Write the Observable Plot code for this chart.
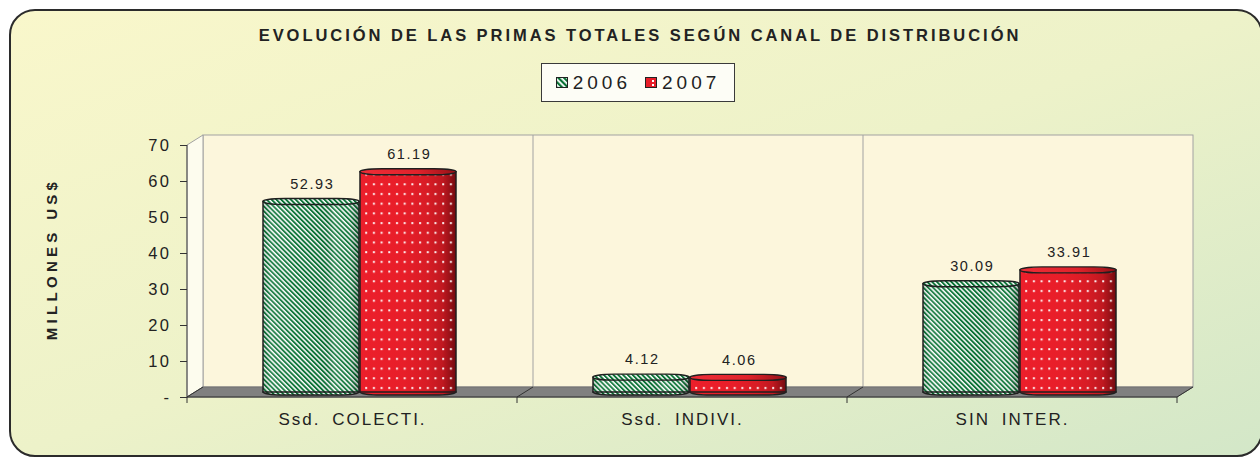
<!DOCTYPE html>
<html>
<head>
<meta charset="utf-8">
<script src="https://cdn.jsdelivr.net/npm/d3@7"></script>
<script src="https://cdn.jsdelivr.net/npm/@observablehq/plot@0.6"></script>
<style>
  html, body { margin: 0; padding: 0; }
  body { width: 1260px; height: 457px; position: relative; overflow: hidden; background: #ffffff;
         font-family: "Liberation Sans", Arial, sans-serif; color: #222; }
  #panel { position: absolute; left: 9px; top: 9px; width: 1254px; height: 448px; box-sizing: border-box;
           border: 2px solid #2b2b2b; border-radius: 26px;
           background: linear-gradient(to bottom right, #f9f7cb 0%, #edf2c9 50%, #d3e7c8 100%); }
  #title { position: absolute; left: 0; top: 26px; width: 1280px; text-align: center; font-weight: bold;
           font-size: 16.5px; letter-spacing: 2.95px; color: #222; white-space: nowrap; }
  #legend { position: absolute; left: 541px; top: 63px; width: 194px; height: 39px; box-sizing: border-box;
            border: 1px solid #3a3a3a; background: #fdfdf6; display: flex; align-items: center;
            justify-content: center; font-size: 19px; letter-spacing: 4px; color: #222; }
  #legend .item { display: flex; align-items: center; margin: 0 7px; }
  #legend svg { margin-right: 5px; }
  #ylabel { position: absolute; left: 51px; top: 259px; transform: translate(-50%, -50%) rotate(-90deg);
            font-weight: bold; font-size: 15px; letter-spacing: 4.3px; white-space: nowrap; color: #222; }
  #chart { position: absolute; left: 0; top: 0; }
  #chart g[aria-label^="y-axis"] text { font-size: 16.5px; letter-spacing: 2.5px; fill: #222; }
  #chart g[aria-label^="fx-axis"] text { font-size: 17px; letter-spacing: 2px; word-spacing: 5px; fill: #222; }
  #chart g[aria-label="text"] text { font-size: 14.5px; letter-spacing: 1.6px; fill: #222; }
</style>
</head>
<body>
<div id="panel"></div>
<div id="title">EVOLUCIÓN DE LAS PRIMAS TOTALES SEGÚN CANAL DE DISTRIBUCIÓN</div>
<div id="legend"></div>
<div id="ylabel">MILLONES US$</div>
<div id="chart"></div>
<script>
// ---- data ----
const categories = ["Ssd. COLECTI.", "Ssd. INDIVI.", "SIN INTER."];
const years = ["2006", "2007"];
const primas2006 = [52.93, 4.12, 30.09];
const primas2007 = [61.19, 4.06, 33.91];
const yTicks = [0, 10, 20, 30, 40, 50, 60, 70];
const yTickLabels = ["-", "10", "20", "30", "40", "50", "60", "70"];

const rows = categories.flatMap((cat, i) => [
  {cat, year: years[0], value: primas2006[i]},
  {cat, year: years[1], value: primas2007[i]}
]);
const rows06 = rows.filter(d => d.year === years[0]);
const rows07 = rows.filter(d => d.year === years[1]);

// 3D depth of the chart box
const DEPTH_X = 16, DEPTH_Y = -10;
const DX = DEPTH_X / 2, DY = DEPTH_Y / 2;
const OUTLINE = "#1f1f1f";

const body = {fx: "cat", x: "year", y: "value", dx: DX, dy: DY};
const capTop = (data, fill) => Plot.barY(data, {fx: "cat", x: "year", y1: "value", y2: "value",
  insetTop: -3, insetBottom: -3, rx: 22, ry: 3, dx: DX, dy: DY, fill, stroke: OUTLINE, strokeWidth: 1.4});
const capBottom = (data, fill) => Plot.barY(data, {fx: "cat", x: "year", y1: d => 0, y2: d => 0,
  insetTop: -3, insetBottom: -3, rx: 22, ry: 3, dx: DX, dy: DY, fill, stroke: OUTLINE, strokeWidth: 1.4});

const chart = Plot.plot({
  width: 1260,
  height: 457,
  marginLeft: 187,
  marginRight: 83,
  marginTop: 145,
  marginBottom: 60,
  style: {background: "transparent", fontFamily: "Liberation Sans, Arial, sans-serif", fontSize: "15px", color: "#222", overflow: "visible"},
  fx: {domain: categories, padding: 0, label: null},
  x: {domain: years, paddingInner: 0.01, paddingOuter: 0.706, axis: null},
  y: {domain: [0, 70], label: null},
  marks: [
    Plot.axisY({ticks: yTicks, tickFormat: d => yTickLabels[yTicks.indexOf(d)], tickSize: 7, tickPadding: 9,
      label: null, stroke: "#333", fontSize: 16.5}),
    Plot.axisFx({anchor: "bottom", tickSize: 0, tickPadding: 15, label: null, fontSize: 17}),
    // 2006: green striped columns
    capBottom(rows06, "url(#stripes)"),
    Plot.barY(rows06, {...body, fill: "#ffffff"}),
    Plot.barY(rows06, {...body, fill: "url(#stripes)"}),
    Plot.barY(rows06, {...body, fill: "url(#shadeGreen)", stroke: OUTLINE, strokeWidth: 1.5}),
    capTop(rows06, "url(#stripes)"),
    // 2007: red dotted columns
    capBottom(rows07, "url(#redBody)"),
    Plot.barY(rows07, {...body, fill: "url(#redBody)"}),
    Plot.barY(rows07, {...body, fill: "url(#dots)", stroke: OUTLINE, strokeWidth: 1.5}),
    capTop(rows07, "url(#redTop)"),
    // value labels
    Plot.text(rows, {fx: "cat", x: "year", y: "value", text: d => d.value.toFixed(2),
      dx: DX + 0.8, dy: DY - 18, fill: "#222"})
  ]
});

const svg = d3.select(chart);

// ---- fills ----
const defs = svg.insert("defs", ":first-child");
const stripes = defs.append("pattern").attr("id", "stripes").attr("patternUnits", "userSpaceOnUse")
  .attr("width", 3.4).attr("height", 3.4).attr("patternTransform", "rotate(-45)");
stripes.append("rect").attr("width", 3.4).attr("height", 3.4).attr("fill", "#ffffff");
stripes.append("rect").attr("width", 1.9).attr("height", 3.4).attr("fill", "#087234");

const dots = defs.append("pattern").attr("id", "dots").attr("patternUnits", "userSpaceOnUse")
  .attr("width", 7.7).attr("height", 9.7);
dots.append("rect").attr("x", 3).attr("y", 4).attr("width", 2).attr("height", 2).attr("fill", "#ffffff").attr("opacity", 0.95);

function hGrad(id, stops) {
  const g = defs.append("linearGradient").attr("id", id).attr("x1", 0).attr("x2", 1).attr("y1", 0).attr("y2", 0);
  stops.forEach(([o, c, a]) => g.append("stop").attr("offset", o).attr("stop-color", c).attr("stop-opacity", a));
}
hGrad("shadeGreen", [[0, "#000", 0.1], [0.08, "#fff", 0.15], [0.35, "#fff", 0.03], [0.62, "#000", 0.03],
  [0.74, "#fff", 0.16], [0.88, "#fff", 0.06], [0.96, "#000", 0.18], [1, "#000", 0.32]]);
hGrad("redBody", [[0, "#ec1f2b", 1], [0.45, "#e81e29", 1], [0.7, "#d81c25", 1], [0.86, "#c01820", 1],
  [0.94, "#971117", 1], [1, "#700b10", 1]]);
hGrad("redTop", [[0, "#ee2d37", 1], [0.6, "#e0222b", 1], [1, "#951117", 1]]);

// ---- 3D box (walls, floor, ticks) drawn from Plot's own scales ----
const fx = chart.scale("fx"), y = chart.scale("y");
const bw = fx.bandwidth;
const xs = categories.map(c => fx.apply(c));
const x0 = xs[0], x3 = xs[xs.length - 1] + bw;
const yb = y.apply(0), yt = y.apply(70);
const box = svg.insert("g", "defs + *").attr("aria-label", "chart box");
const edges = [...xs, x3];
box.append("rect").attr("x", x0 + DEPTH_X).attr("y", yt + DEPTH_Y).attr("width", x3 - x0).attr("height", yb - yt)
  .attr("fill", "#fcf6dc").attr("stroke", "#a2a2a2");
edges.slice(1, -1).forEach(e => box.append("line").attr("x1", e + DEPTH_X).attr("x2", e + DEPTH_X)
  .attr("y1", yt + DEPTH_Y).attr("y2", yb + DEPTH_Y).attr("stroke", "#a2a2a2"));
box.append("polygon").attr("points", [[x0, yt], [x0 + DEPTH_X, yt + DEPTH_Y], [x0 + DEPTH_X, yb + DEPTH_Y], [x0, yb]].join(" "))
  .attr("fill", "#fdfcee").attr("stroke", "#a2a2a2");
box.append("polygon").attr("points", [[x0, yb], [x3, yb], [x3 + DEPTH_X, yb + DEPTH_Y], [x0 + DEPTH_X, yb + DEPTH_Y]].join(" "))
  .attr("fill", "#808080").attr("stroke", "#707070");
box.append("line").attr("x1", x0).attr("x2", x0).attr("y1", yt).attr("y2", yb).attr("stroke", "#444");
box.append("line").attr("x1", x0).attr("x2", x3).attr("y1", yb).attr("y2", yb).attr("stroke", "#333");
edges.forEach(e => {
  box.append("line").attr("x1", e).attr("x2", e).attr("y1", yb).attr("y2", yb + 6).attr("stroke", "#333");
  box.append("line").attr("x1", e).attr("x2", e + DEPTH_X).attr("y1", yb).attr("y2", yb + DEPTH_Y).attr("stroke", "#333");
});

document.getElementById("chart").appendChild(chart);

// ---- legend ----
const legend = d3.select("#legend");
years.forEach((yr, i) => {
  const item = legend.append("div").attr("class", "item");
  const s = item.append("svg").attr("width", 12).attr("height", 11);
  const d = s.append("defs");
  if (i === 0) {
    const p = d.append("pattern").attr("id", "legStripes").attr("patternUnits", "userSpaceOnUse")
      .attr("width", 4).attr("height", 4).attr("patternTransform", "rotate(-45)");
    p.append("rect").attr("width", 4).attr("height", 4).attr("fill", "#fff");
    p.append("rect").attr("width", 2.2).attr("height", 4).attr("fill", "#087234");
    s.append("rect").attr("x", 0.5).attr("y", 0.5).attr("width", 11).attr("height", 10)
      .attr("fill", "url(#legStripes)").attr("stroke", "#222");
  } else {
    s.append("rect").attr("x", 0.5).attr("y", 0.5).attr("width", 11).attr("height", 10)
      .attr("fill", "#e81e29").attr("stroke", "#222");
    s.append("rect").attr("x", 7).attr("y", 3).attr("width", 2).attr("height", 2).attr("fill", "#fff");
    s.append("rect").attr("x", 7).attr("y", 7).attr("width", 2).attr("height", 2).attr("fill", "#fff");
  }
  item.append("span").text(yr);
});
</script>
</body>
</html>
